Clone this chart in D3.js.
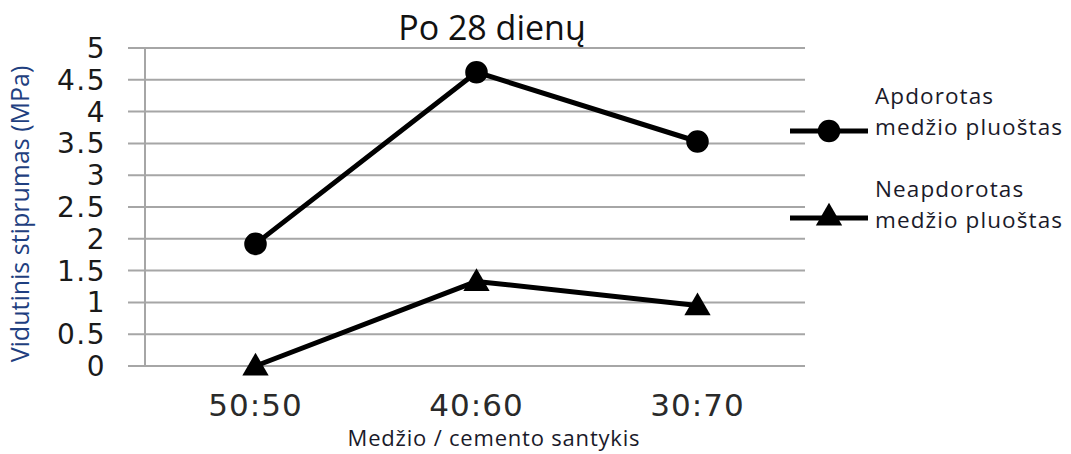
<!DOCTYPE html>
<html>
<head>
<meta charset="utf-8">
<script src="https://cdn.jsdelivr.net/npm/d3@7"></script>
<style>
  html, body { margin: 0; padding: 0; background: #fff; }
  svg { display: block; }
</style>
</head>
<body>
<svg id="chart" width="1071" height="454"></svg>
<script>
const categories = ["50:50", "40:60", "30:70"];
const treated = [1.92, 4.62, 3.53];
const untreated = [0.0, 1.33, 0.95];
const seriesNames = [["Apdorotas", "medžio pluoštas"], ["Neapdorotas", "medžio pluoštas"]];
const yTicks = [0, 0.5, 1, 1.5, 2, 2.5, 3, 3.5, 4, 4.5, 5];
const yTickLabels = ["0", "0.5", "1", "1.5", "2", "2.5", "3", "3.5", "4", "4.5", "5"];
const titleText = "Po 28 dienų";
const xTitle = "Medžio / cemento santykis";
const yTitle = "Vidutinis stiprumas (MPa)";

(function () {
const svg = d3.select("#chart");
const pLeft = 145, pRight = 808, pTop = 48, pBottom = 366;

const x = d3.scalePoint().domain(categories).range([pLeft, pRight]).padding(0.5);
const y = d3.scaleLinear().domain([0, 5]).range([pBottom, pTop]);

// gridlines
svg.append("g").selectAll("line").data(yTicks).join("line")
  .attr("x1", pLeft - 17).attr("x2", 805)
  .attr("y1", d => y(d)).attr("y2", d => y(d))
  .attr("stroke", "#a6a6a6").attr("stroke-width", 2);

// y axis line
svg.append("line").attr("x1", pLeft).attr("x2", pLeft).attr("y1", pTop).attr("y2", pBottom)
  .attr("stroke", "#a6a6a6").attr("stroke-width", 2);

// y tick labels
svg.append("g").selectAll("text").data(yTicks).join("text")
  .attr("x", 106).attr("y", d => y(d))
  .attr("dy", "0.36em")
  .attr("text-anchor", "end")
  .attr("font-family", "DejaVu Sans")
  .attr("font-size", 28)
  .attr("letter-spacing", 1.5)
  .attr("fill", "#1a1a1a")
  .text((d, i) => yTickLabels[i]);

// x tick labels
svg.append("g").selectAll("text").data(categories).join("text")
  .attr("x", d => x(d)).attr("y", 416)
  .attr("text-anchor", "middle")
  .attr("font-family", "DejaVu Sans")
  .attr("font-size", 31)
  .attr("letter-spacing", 1)
  .attr("fill", "#2a2a2a")
  .text(d => d);

// titles
svg.append("text").attr("x", 492).attr("y", 40).attr("text-anchor", "middle")
  .attr("font-family", "Open Sans").attr("font-size", 34).attr("fill", "#111")
  .text(titleText);
svg.append("text").attr("x", 494).attr("y", 446).attr("text-anchor", "middle")
  .attr("font-family", "Open Sans").attr("font-size", 22).attr("letter-spacing", 0.8).attr("fill", "#1a1a2a")
  .text(xTitle);
svg.append("text").attr("transform", "translate(29,214) rotate(-90)").attr("text-anchor", "middle")
  .attr("font-family", "Open Sans").attr("font-size", 25).attr("fill", "#1f3f80")
  .text(yTitle);

// lines
const line = d3.line().x((d, i) => x(categories[i])).y(d => y(d));
svg.append("path").datum(treated).attr("d", line)
  .attr("fill", "none").attr("stroke", "#000").attr("stroke-width", 5).attr("stroke-linejoin", "round");
svg.append("path").datum(untreated).attr("d", line)
  .attr("fill", "none").attr("stroke", "#000").attr("stroke-width", 5).attr("stroke-linejoin", "round");

// markers
const circleSym = d3.symbol().type(d3.symbolCircle).size(400);
const triSym = d3.symbol().type(d3.symbolTriangle).size(300);
svg.append("g").selectAll("path").data(treated).join("path")
  .attr("d", circleSym)
  .attr("transform", (d, i) => `translate(${x(categories[i])},${y(d)})`)
  .attr("fill", "#000");
svg.append("g").selectAll("path").data(untreated).join("path")
  .attr("d", triSym)
  .attr("transform", (d, i) => `translate(${x(categories[i])},${y(d) + 2})`)
  .attr("fill", "#000");

// legend
const legendLineY = [131, 218];
const legendTextY = [[104, 135], [197, 228]];
const legendSym = [circleSym, triSym];
seriesNames.forEach((names, k) => {
  const g = svg.append("g");
  g.append("line").attr("x1", 790).attr("x2", 868).attr("y1", legendLineY[k]).attr("y2", legendLineY[k])
    .attr("stroke", "#000").attr("stroke-width", 5);
  g.append("path").attr("d", legendSym[k]).attr("transform", `translate(829,${legendLineY[k]})`).attr("fill", "#000");
  names.forEach((t, j) => {
    g.append("text").attr("x", 875).attr("y", legendTextY[k][j])
      .attr("font-family", "Open Sans").attr("font-size", 22.5).attr("letter-spacing", 1.1)
      .attr("fill", "#1a1a2a").text(t);
  });
});
})();
</script>
</body>
</html>
